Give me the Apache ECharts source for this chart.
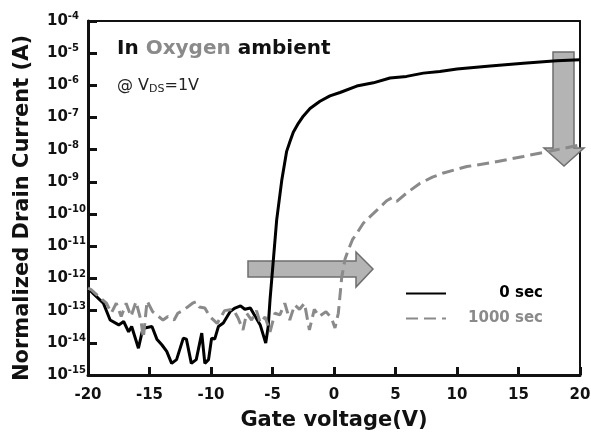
<!DOCTYPE html>
<html>
<head>
<meta charset="utf-8">
<script src="https://cdn.jsdelivr.net/npm/echarts@6/dist/echarts.min.js"></script>
<style>
  html, body { margin: 0; padding: 0; background: #fff; }
  #chart { width: 591px; height: 436px; }
</style>
</head>
<body>
<div id="chart"></div>
<script>
// gate voltage (V) and normalized drain current (A)
const voltage0 = [-20, -19.5, -18.75, -18.2, -17.5, -17.1, -16.7, -16.45, -15.9, -15.6, -15.4, -14.8, -14.4, -14.0, -13.6, -13.2, -12.8, -12.25, -12.0, -11.6, -11.2, -10.75, -10.5, -10.2, -9.95, -9.7, -9.4, -9.0, -8.45, -8.05, -7.6, -7.25, -6.8, -6.4, -6.0, -5.55, -5.35, -5.2, -4.93, -4.66, -4.25, -3.85, -3.58, -3.31, -2.9, -2.5, -1.95, -1.14, -0.33, 0.49, 1.85, 3.2, 4.55, 5.9, 7.26, 8.6, 10, 12.7, 15.4, 18.1, 20];
const current0 = [5.0e-13, 3.2e-13, 1.7e-13, 5.1e-14, 3.6e-14, 4.6e-14, 2.2e-14, 3.2e-14, 6.8e-15, 2.2e-14, 2.9e-14, 3.2e-14, 1.3e-14, 8.7e-15, 5.4e-15, 2.3e-15, 3.0e-15, 1.4e-14, 1.3e-14, 2.3e-15, 3.0e-15, 2.0e-14, 2.3e-15, 3.0e-15, 1.4e-14, 1.3e-14, 3.2e-14, 4.1e-14, 9.3e-14, 1.2e-13, 1.4e-13, 1.1e-13, 1.2e-13, 6.6e-14, 3.6e-14, 9.8e-15, 3.2e-14, 2.2e-13, 3.8e-12, 6.6e-11, 1.1e-9, 8.9e-9, 1.8e-8, 3.5e-8, 6.6e-8, 1.1e-7, 1.9e-7, 3.2e-7, 4.7e-7, 6.0e-7, 9.5e-7, 1.2e-6, 1.7e-6, 1.9e-6, 2.4e-6, 2.7e-6, 3.2e-6, 4.0e-6, 4.9e-6, 5.8e-6, 6.2e-6];

const voltage1000 = [-20, -19.75, -18.5, -18.1, -17.7, -17.3, -16.9, -16.5, -16.1, -15.7, -15.5, -15.2, -14.75, -13.9, -13.5, -13.0, -12.7, -12.3, -11.5, -11.2, -10.95, -10.5, -10.1, -9.5, -8.9, -8.2, -7.8, -7.4, -7.1, -6.7, -6.3, -6.0, -5.6, -5.2, -4.8, -4.4, -4.0, -3.6, -3.2, -2.8, -2.4, -2.0, -1.6, -1.2, -0.65, -0.2, 0.08, 0.35, 0.63, 0.9, 1.17, 1.5, 1.85, 2.38, 2.93, 3.47, 4.28, 4.7, 5.1, 5.9, 7.0, 8.0, 8.9, 10.8, 12.7, 15.4, 18.1, 20];
const current1000 = [5.0e-13, 4.5e-13, 1.7e-13, 8.5e-14, 1.7e-13, 6.6e-14, 1.7e-13, 6.6e-14, 1.9e-13, 5.1e-14, 1.4e-14, 2.0e-13, 9.3e-14, 5.1e-14, 6.6e-14, 5.1e-14, 8.3e-14, 1.0e-13, 1.7e-13, 1.9e-13, 1.3e-13, 1.2e-13, 6.6e-14, 4.0e-14, 1.0e-13, 1.1e-13, 5.9e-14, 2.5e-14, 8.3e-14, 5.1e-14, 1.0e-13, 4.2e-14, 6.3e-14, 2.2e-14, 8.3e-14, 7.4e-14, 1.7e-13, 5.1e-14, 1.5e-13, 1.1e-13, 1.7e-13, 2.5e-14, 1.1e-13, 6.6e-14, 9.3e-14, 5.9e-14, 2.9e-14, 8.3e-14, 1.1e-12, 4.0e-12, 7.8e-12, 1.6e-11, 2.5e-11, 5.2e-11, 8.3e-11, 1.3e-10, 2.6e-10, 3.2e-10, 2.5e-10, 4.5e-10, 9.1e-10, 1.4e-9, 1.9e-9, 3.0e-9, 3.9e-9, 6.2e-9, 1.0e-8, 1.4e-8];

const seriesNames = ['0 sec', '1000 sec'];
const FONT = 'DejaVu Sans';
const GRAY = '#8a8a8a';

function pairs(xs, ys) {
  return xs.map((x, i) => [x, ys[i]]);
}

// plain frame line for the top and right sides
function frameAxis(position) {
  return {
    type: 'value',
    position: position,
    axisLine: { show: true, onZero: false, lineStyle: { color: '#111', width: 2 } },
    axisTick: { show: false },
    axisLabel: { show: false },
    splitLine: { show: false }
  };
}

let chart = echarts.init(document.getElementById('chart'));

const option = {
  animation: false,
  grid: {
    left: 88, right: 11, top: 21, bottom: 61,
    outerBoundsMode: 'none'
  },
  legend: {
    orient: 'vertical',
    left: 400,
    top: 281,
    itemWidth: 40,
    itemHeight: 14,
    itemGap: 10,
    itemStyle: { opacity: 0 },
    formatter: name => name === seriesNames[0] ? '{a|' + name + '}' : '{b|' + name + '}',
    textStyle: {
      rich: {
        a: { width: 92, align: 'right', fontFamily: FONT, fontWeight: 'bold', fontSize: 15, color: '#000', lineHeight: 14 },
        b: { width: 92, align: 'right', fontFamily: FONT, fontWeight: 'bold', fontSize: 15, color: GRAY, lineHeight: 14 }
      }
    },
    data: seriesNames
  },
  xAxis: [{
    type: 'value',
    min: -20, max: 20, interval: 5,
    axisLine: { show: true, onZero: false, lineStyle: { color: '#111', width: 3 } },
    axisTick: { show: true, inside: true, length: 8, lineStyle: { color: '#111', width: 3 } },
    axisLabel: { fontFamily: FONT, fontWeight: 'bold', fontSize: 15, color: '#111', margin: 13 },
    splitLine: { show: false }
  }, frameAxis('top')],
  yAxis: [{
    type: 'log',
    logBase: 10,
    min: 1e-15, max: 1e-4,
    interval: 1,
    axisLine: { show: true, onZero: false, lineStyle: { color: '#111', width: 3 } },
    axisTick: { show: true, inside: true, length: 9, lineStyle: { color: '#111', width: 3 } },
    minorTick: { show: false },
    axisLabel: {
      align: 'left',
      margin: 41,
      formatter: v => '{b|10}{s|' + Math.round(Math.log10(v)) + '}',
      rich: {
        b: { fontFamily: FONT, fontWeight: 'bold', fontSize: 15, color: '#111' },
        s: { fontFamily: FONT, fontWeight: 'bold', fontSize: 10, color: '#111', padding: [0, 0, 9, 0] }
      }
    },
    splitLine: { show: false }
  }, frameAxis('right')],
  graphic: [
    {
      type: 'polygon', z: 1,
      shape: { points: [[248, 261], [356, 261], [356, 252], [373, 269], [356, 287], [356, 277], [248, 277]] },
      style: { fill: '#b4b4b4', stroke: '#6e6e6e', lineWidth: 1.5 }
    },
    {
      type: 'polygon', z: 1,
      shape: { points: [[553, 52], [574, 52], [574, 148], [584, 148], [564, 166], [544, 148], [553, 148]] },
      style: { fill: '#b4b4b4', stroke: '#6e6e6e', lineWidth: 1.5 }
    },
    {
      type: 'text', z: 10, left: 117, top: 39,
      style: {
        text: '{k|In }{g|Oxygen}{k| ambient}',
        rich: {
          k: { fontFamily: FONT, fontWeight: 'bold', fontSize: 20, fill: '#111' },
          g: { fontFamily: FONT, fontWeight: 'bold', fontSize: 20, fill: GRAY }
        }
      }
    },
    {
      type: 'text', z: 10, left: 117, top: 78,
      style: {
        text: '{n|@ V}{d|DS}{n|=1V}',
        rich: {
          n: { fontFamily: FONT, fontSize: 16, fill: '#222' },
          d: { fontFamily: FONT, fontSize: 11, fill: '#222', padding: [7, 0, 0, 0] }
        }
      }
    },
    {
      // x axis title
      type: 'text', z: 10, x: 334, y: 421,
      style: {
        text: 'Gate voltage(V)',
        fontFamily: FONT, fontWeight: 'bold', fontSize: 21, fill: '#111',
        align: 'center', verticalAlign: 'middle'
      }
    },
    {
      // y axis title
      type: 'text', z: 10, x: 23, y: 208, rotation: Math.PI / 2,
      style: {
        text: 'Normalized Drain Current (A)',
        fontFamily: FONT, fontWeight: 'bold', fontSize: 21, fill: '#111',
        align: 'center', verticalAlign: 'middle'
      }
    }
  ],
  series: [
    {
      name: seriesNames[0],
      type: 'line',
      symbol: 'none',
      data: pairs(voltage0, current0),
      itemStyle: { color: '#000' },
      lineStyle: { color: '#000', width: 3 }
    },
    {
      name: seriesNames[1],
      type: 'line',
      symbol: 'none',
      data: pairs(voltage1000, current1000),
      itemStyle: { color: GRAY },
      lineStyle: { color: GRAY, width: 3, type: [12, 6] }
    }
  ]
};

chart.setOption(option);

window.addEventListener('resize', function() {
  chart.resize();
});
</script>
</body>
</html>
